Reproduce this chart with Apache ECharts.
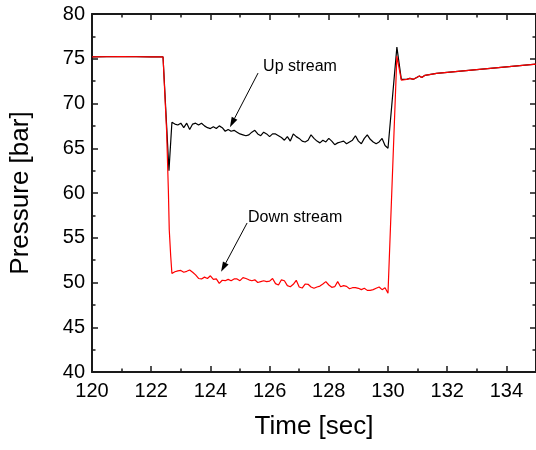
<!DOCTYPE html>
<html><head><meta charset="utf-8">
<script src="https://cdn.jsdelivr.net/npm/echarts@6/dist/echarts.min.js"></script>
<style>html,body{margin:0;padding:0;background:#fff}#c{width:536px;height:450px}</style>
</head><body><div id="c"></div>
<script>
// Time axis [sec]
const flatTime = [120, 121, 122, 122.4];
const flatUp = [75.2, 75.25, 75.2, 75.2];
const flatDown = [75.2, 75.25, 75.2, 75.2];

// drop transition
const dropTimeUp = [122.6];
const dropUp = [62.5];
const dropTimeDown = [122.52, 122.58, 122.61, 122.66];
const dropDown = [67.0, 60.3, 55.9, 52.9];

// plateau 122.7 .. 130.0 step 0.1
const plateauTime = [122.7,122.8,122.9,123.0,123.1,123.2,123.3,123.4,123.5,123.6,
  123.7,123.8,123.9,124.0,124.1,124.2,124.3,124.4,124.5,124.6,
  124.7,124.8,124.9,125.0,125.1,125.2,125.3,125.4,125.5,125.6,
  125.7,125.8,125.9,126.0,126.1,126.2,126.3,126.4,126.5,126.6,
  126.7,126.8,126.9,127.0,127.1,127.2,127.3,127.4,127.5,127.6,
  127.7,127.8,127.9,128.0,128.1,128.2,128.3,128.4,128.5,128.6,
  128.7,128.8,128.9,129.0,129.1,129.2,129.3,129.4,129.5,129.6,
  129.7,129.8,129.9,130.0];
const plateauUp = [67.9,67.7,67.6,67.8,67.3,67.8,67.1,67.7,67.8,67.6,
  67.8,67.5,67.3,67.2,67.4,67.2,67.5,67.3,66.9,67.1,
  66.9,67.0,66.8,66.6,66.5,66.4,66.5,66.8,67.0,66.6,
  66.4,66.8,66.6,66.3,66.6,66.6,66.4,66.2,65.9,66.3,
  65.8,66.6,66.3,66.1,65.8,65.7,65.9,66.5,66.1,65.8,
  65.6,65.9,65.7,66.1,65.8,65.4,65.6,65.7,65.8,65.5,
  65.7,65.9,66.4,65.8,65.5,66.1,66.5,66.0,65.7,65.5,
  65.7,66.1,65.3,65.0];
const plateauDown = [51.0,51.2,51.3,51.35,51.15,51.25,51.4,51.15,50.85,50.45,
  50.4,50.6,50.45,50.75,50.35,50.4,49.9,50.25,50.2,50.35,
  50.2,50.4,50.4,50.2,50.55,50.45,50.3,50.2,50.3,50.0,
  50.1,50.2,50.1,50.15,50.45,49.87,49.72,50.3,50.2,49.65,
  49.53,49.8,50.24,49.5,49.38,49.83,49.8,49.5,49.35,49.5,
  49.6,49.83,50.1,49.72,49.46,49.53,50.1,49.53,49.65,49.57,
  49.3,49.42,49.42,49.35,49.2,49.35,49.12,49.12,49.2,49.35,
  49.5,49.2,49.42,48.8];

// recovery
const recTime = [130.3, 130.45, 130.63, 130.74, 130.86, 130.97, 131.06, 131.14, 131.25, 131.64, 132, 133, 134, 135];
const recUp = [76.3, 72.7, 72.7, 72.8, 72.7, 72.9, 73.07, 72.9, 73.15, 73.37, 73.48, 73.78, 74.1, 74.4];
const recDown = [75.3, 72.6, 72.7, 72.8, 72.7, 72.9, 73.07, 72.9, 73.15, 73.37, 73.48, 73.78, 74.1, 74.4];

// annotations
const annoLabels = ['Up stream', 'Down stream'];
const annoText = [[125.78, 75.0], [125.27, 58.1]];   // top-left of text
const annoArrowFrom = [[125.61, 73.4], [125.24, 56.65]];
const annoArrowTo = [[124.66, 67.35], [124.36, 51.2]];

const xTicks = {min: 120, max: 135, interval: 2};
const yTicks = {min: 40, max: 80, interval: 5};

function zip(t, v) { return t.map((x, i) => [x, v[i]]); }
const upData = zip(flatTime, flatUp).concat(zip(dropTimeUp, dropUp), zip(plateauTime, plateauUp), zip(recTime, recUp));
const downData = zip(flatTime, flatDown).concat(zip(dropTimeDown, dropDown), zip(plateauTime, plateauDown), zip(recTime, recDown));

const FONT = '"Liberation Sans", Arial, sans-serif';
const axisLine = {show: true, onZero: false, lineStyle: {color: '#1a1a1a', width: 2}};
const tick = {show: true, inside: true, length: 6, lineStyle: {color: '#1a1a1a', width: 1.5}};
const minor = {show: true, splitNumber: 2, length: 3.5, lineStyle: {color: '#1a1a1a', width: 1.5}};

const chart = echarts.init(document.getElementById('c'), null, {renderer: 'canvas'});
const option = {
  animation: false,
  backgroundColor: '#fff',
  grid: {left: 92, top: 14, right: 0, bottom: 78, containLabel: false},
  xAxis: [{
    type: 'value', min: xTicks.min, max: xTicks.max, interval: xTicks.interval,
    axisLine: axisLine, axisTick: tick, minorTick: minor, splitLine: {show: false}, minorSplitLine: {show: false},
    axisLabel: {color: '#000', fontSize: 20, fontFamily: FONT, margin: 9, showMaxLabel: false},
    name: 'Time [sec]', nameLocation: 'middle', nameGap: 42,
    nameTextStyle: {color: '#000', fontSize: 26, fontFamily: FONT}
  }, {
    type: 'value', position: 'top', min: xTicks.min, max: xTicks.max, interval: xTicks.interval,
    axisLine: axisLine, axisTick: tick, minorTick: minor, splitLine: {show: false},
    axisLabel: {show: false}
  }],
  yAxis: [{
    type: 'value', min: yTicks.min, max: yTicks.max, interval: yTicks.interval,
    axisLine: axisLine, axisTick: tick, minorTick: minor, splitLine: {show: false}, minorSplitLine: {show: false},
    axisLabel: {color: '#000', fontSize: 20, fontFamily: FONT, margin: 7},
    name: 'Pressure [bar]', nameLocation: 'middle', nameGap: 58,
    nameTextStyle: {color: '#000', fontSize: 26, fontFamily: FONT}
  }, {
    type: 'value', position: 'right', min: yTicks.min, max: yTicks.max, interval: yTicks.interval,
    axisLine: axisLine, axisTick: tick, minorTick: minor, splitLine: {show: false},
    axisLabel: {show: false}
  }],
  series: [{
    name: 'Up stream', type: 'line', data: upData, showSymbol: false, symbol: 'none',
    lineStyle: {color: '#000', width: 1.2}, z: 2
  }, {
    name: 'Down stream', type: 'line', data: downData, showSymbol: false, symbol: 'none',
    lineStyle: {color: '#ff0000', width: 1.2}, z: 3
  }]
};
chart.setOption(option);

const px = (v) => chart.convertToPixel({xAxisIndex: 0, yAxisIndex: 0}, v);
const graphics = [];
annoLabels.forEach((t, i) => {
  const p = px(annoText[i]);
  graphics.push({type: 'text', x: p[0], y: p[1], z: 10,
    style: {text: t, fill: '#000', font: '16px ' + FONT, textVerticalAlign: 'top', textAlign: 'left'}});
  const a = px(annoArrowFrom[i]), b = px(annoArrowTo[i]);
  const dx = b[0] - a[0], dy = b[1] - a[1], L = Math.hypot(dx, dy);
  const ux = dx / L, uy = dy / L, hl = 10, hw = 3.2;
  const bx = b[0] - ux * hl, by = b[1] - uy * hl;
  graphics.push({type: 'line', z: 10, shape: {x1: a[0], y1: a[1], x2: bx, y2: by},
    style: {stroke: '#000', lineWidth: 1}});
  graphics.push({type: 'polygon', z: 10, shape: {points: [[b[0], b[1]], [bx - uy * hw, by + ux * hw], [bx + uy * hw, by - ux * hw]]},
    style: {fill: '#000'}});
});
chart.setOption({graphic: graphics});
</script></body></html>
